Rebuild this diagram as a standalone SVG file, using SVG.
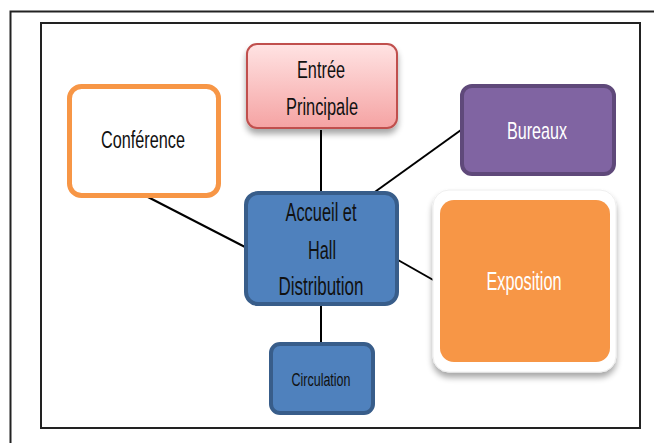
<svg xmlns="http://www.w3.org/2000/svg" width="654" height="443" viewBox="0 0 654 443">
<defs>
<linearGradient id="pink" x1="0" y1="0" x2="0" y2="1">
<stop offset="0" stop-color="#ffe3e3"/>
<stop offset="1" stop-color="#f5a3a3"/>
</linearGradient>
<filter id="sh" x="-20%" y="-20%" width="140%" height="150%">
<feGaussianBlur in="SourceAlpha" stdDeviation="3"/>
<feOffset dx="0" dy="5"/>
<feComponentTransfer><feFuncA type="linear" slope="0.35"/></feComponentTransfer>
<feMerge><feMergeNode/><feMergeNode in="SourceGraphic"/></feMerge>
</filter>
</defs>
<style>
.t{font-family:"Liberation Sans",Arial,sans-serif;text-anchor:middle}
.c{stroke:#000;stroke-width:2;fill:none}
</style>
<rect x="0" y="0" width="654" height="443" fill="#fff"/>
<path d="M10.5 443 V11.5 H654" fill="none" stroke="#222" stroke-width="2"/>
<rect x="41" y="23" width="599" height="405" fill="none" stroke="#222" stroke-width="2"/>
<g id="connectors">
<line class="c" x1="321" y1="130" x2="321" y2="194"/>
<line class="c" x1="144" y1="195" x2="245" y2="247"/>
<line class="c" x1="372" y1="194" x2="461" y2="130"/>
<line class="c" x1="398" y1="260" x2="435" y2="281"/>
<line class="c" x1="321" y1="303" x2="321" y2="343"/>
</g>
<g id="entree">
<rect x="247" y="44" width="150" height="84" rx="10" fill="url(#pink)" stroke="#c0504d" stroke-width="2" filter="url(#sh)"/>
<text class="t" x="321" y="78.3" font-size="23" fill="#111" textLength="48" lengthAdjust="spacingAndGlyphs">Entrée</text>
<text class="t" x="322" y="115" font-size="23" fill="#111" textLength="72" lengthAdjust="spacingAndGlyphs">Principale</text>
</g>
<g id="conference">
<rect x="69.5" y="86.5" width="149" height="109" rx="12" fill="#fff" stroke="#f79646" stroke-width="5"/>
<text class="t" x="143" y="148.3" font-size="23" fill="#111" textLength="84" lengthAdjust="spacingAndGlyphs">Conférence</text>
</g>
<g id="bureaux">
<rect x="462" y="86" width="152" height="88" rx="10" fill="#8064a2" stroke="#5f497a" stroke-width="4"/>
<text class="t" x="537" y="139.3" font-size="24" fill="#fff" textLength="60" lengthAdjust="spacingAndGlyphs">Bureaux</text>
</g>
<g id="accueil">
<rect x="246" y="193" width="151" height="111" rx="12" fill="#4f81bd" stroke="#385d8a" stroke-width="4"/>
<text class="t" x="321" y="221" font-size="25" fill="#111" textLength="71" lengthAdjust="spacingAndGlyphs">Accueil et</text>
<text class="t" x="322" y="258.5" font-size="25" fill="#111" textLength="28" lengthAdjust="spacingAndGlyphs">Hall</text>
<text class="t" x="321" y="295" font-size="25" fill="#111" textLength="85" lengthAdjust="spacingAndGlyphs">Distribution</text>
</g>
<g id="exposition">
<rect x="433" y="190" width="183" height="182" rx="16" fill="#fff" stroke="#eee" stroke-width="1" filter="url(#sh)"/>
<rect x="440" y="200" width="170" height="162" rx="14" fill="#f79646"/>
<text class="t" x="524" y="290" font-size="25" fill="#fff" textLength="75" lengthAdjust="spacingAndGlyphs">Exposition</text>
</g>
<g id="circulation">
<rect x="271" y="344" width="102" height="69" rx="9" fill="#4f81bd" stroke="#385d8a" stroke-width="4"/>
<text class="t" x="321" y="386" font-size="18" fill="#111" textLength="59" lengthAdjust="spacingAndGlyphs">Circulation</text>
</g>
</svg>
